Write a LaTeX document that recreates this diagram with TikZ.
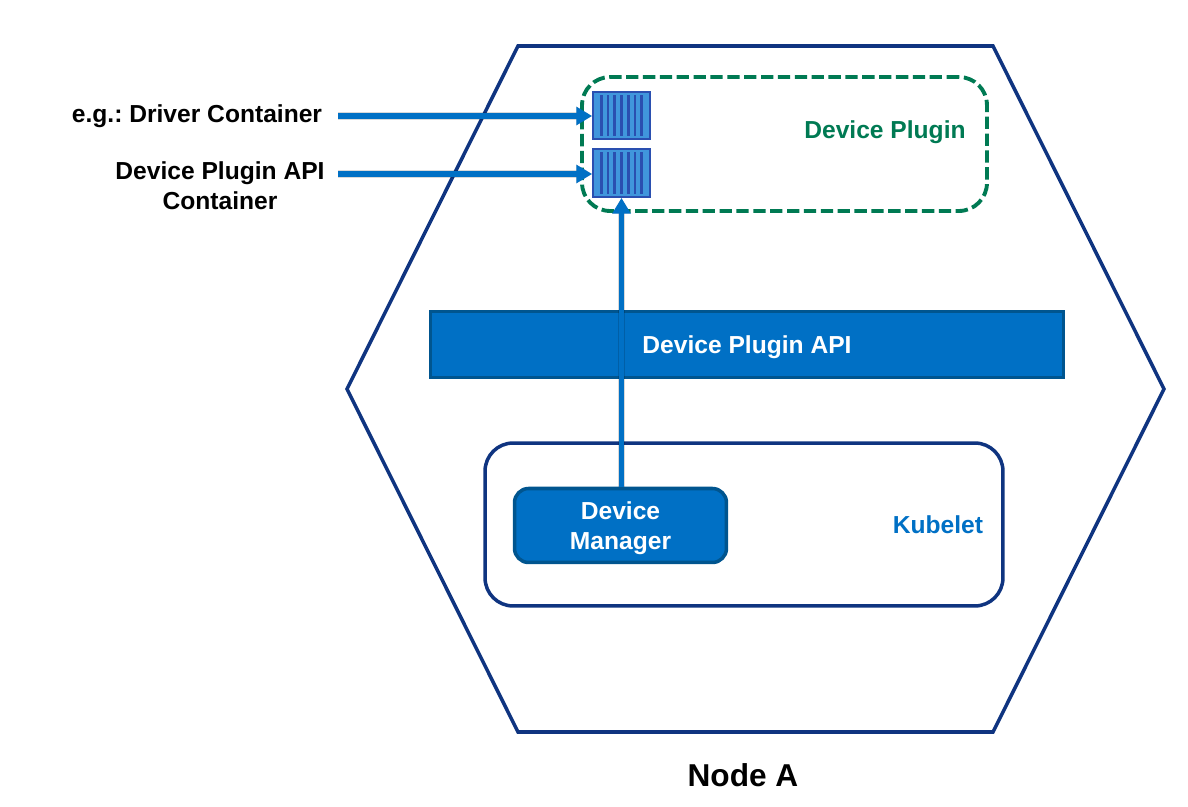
\documentclass[tikz,border=0pt]{standalone}
\usepackage{fontspec}
\setmainfont{Liberation Sans}
\usetikzlibrary{arrows.meta, calc}
\definecolor{navy}{HTML}{0F3480}
\definecolor{plugingreen}{HTML}{007A53}
\definecolor{azure}{HTML}{0070C5}
\definecolor{azuredark}{HTML}{00558F}
\definecolor{boxfill}{HTML}{4096DC}
\definecolor{boxline}{HTML}{2A4FB0}
\newcommand{\dropline}{\rule{0pt}{13.5pt}}
\tikzset{
    lbl/.style={font=\fontsize{14}{17}\selectfont\bfseries, align=center, inner sep=0pt},
    flow/.style={draw=azure, line width=3pt, -{Triangle[length=9pt, width=10pt]},
        preaction={draw=black, opacity=.15, line width=4pt}},
    cargo/.style={draw=boxline, line width=1pt, fill=boxfill, minimum width=1.14cm, minimum height=0.94cm, inner sep=0pt},
    stripe/.style={draw=boxline, line width=1.5pt}
}
\begin{document}
\frenchspacing
\begin{tikzpicture}[x=0.02cm, y=-0.02cm]
    \useasboundingbox (0,0) rectangle (1188,807);
    % outer node
    \draw[navy, line width=2pt, line join=miter] (518,46) -- (993,46) -- (1164,389) -- (993,732) -- (518,732) -- (347,389) -- cycle;
    \node[lbl, font=\fontsize{18}{22}\selectfont\bfseries] (nodea) at (743,775) {Node A};

    % plugin part
    \node[draw=plugingreen, line width=2.2pt, dash pattern=on 7pt off 2.6pt, rounded corners=16pt, minimum width=8.1cm, minimum height=2.68cm] (plugin) at (784.5,144) {};
    \node[lbl, text=plugingreen] (pluginlbl) at (885,132) {Device Plugin};
    \node[cargo] (drv) at (621.5,115.5) {};
    \node[cargo, minimum height=0.96cm] (api) at (621.5,173) {};
    \foreach \cname in {drv,api}
        \foreach \dx in {-3,...,3}
            \draw[stripe] ($(\cname.north)+({\dx*6.7},4)$) -- ($(\cname.south)+({\dx*6.7},-4)$);

    % api band
    \node[lbl, draw=azuredark, line width=1.8pt, fill=azure, text=white, minimum width=12.66cm, minimum height=1.32cm] (band) at (747,344.5) {\dropline Device Plugin API};

    % kubelet
    \node[draw=navy, line width=2pt, rounded corners=16pt, minimum width=10.36cm, minimum height=3.26cm] (kubelet) at (744,524.5) {};
    \node[lbl, text=azure] (kubeletlbl) at (938,525) {Kubelet};
    \node[lbl, draw=azuredark, line width=2pt, fill=azure, text=white, rounded corners=8pt, minimum width=4.24cm, minimum height=1.48cm] (manager) at (620.5,525.5) {\dropline Device\\Manager};

    % labels on the left
    \node[lbl] (drvlbl) at (197,116) {e.g.: Driver Container};
    \node[lbl] (apilbl) at (220,186) {Device Plugin API\\Container};
    \coordinate (drvstart) at (338,116);
    \coordinate (apistart) at (338,174);

    \draw[flow] (drvstart) -- (drvstart -| drv.west);
    \draw[flow] (apistart) -- (apistart -| api.west);
    \draw[flow] (api.south |- manager.north) -- (api.south);
\end{tikzpicture}
\end{document}
